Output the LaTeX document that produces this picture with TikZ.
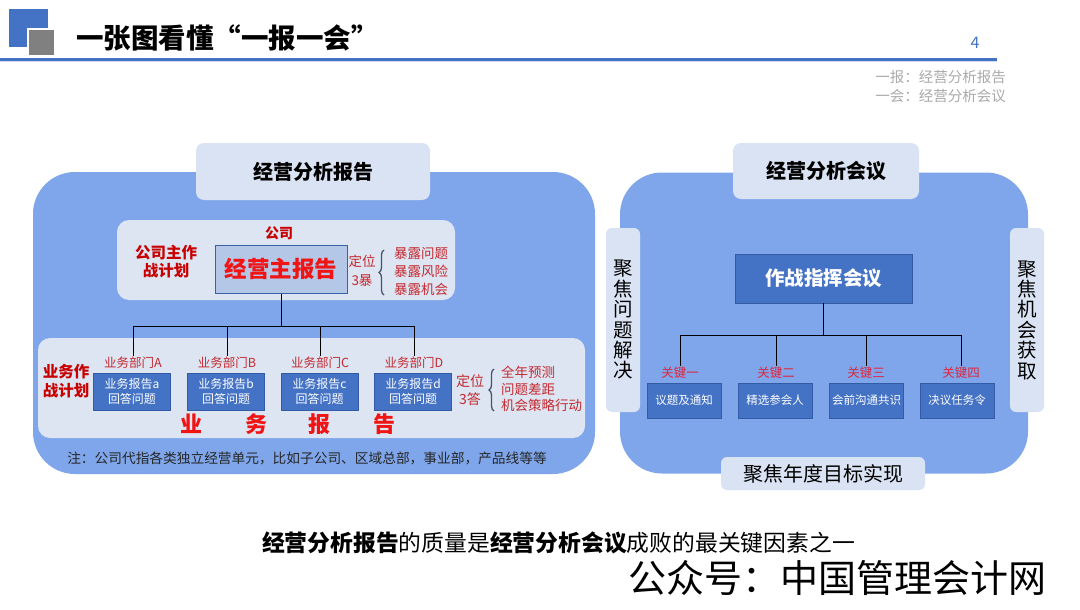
\documentclass[tikz,border=0pt]{standalone}
\usepackage{fontspec}
\setmainfont{Noto Sans CJK SC}
\usetikzlibrary{decorations.pathreplacing}
\definecolor{panel}{RGB}{127,166,234}
\definecolor{tabfill}{RGB}{218,227,243}
\definecolor{innerfill}{RGB}{221,229,242}
\definecolor{darkbox}{RGB}{68,114,196}
\definecolor{darkborder}{RGB}{52,92,166}
\definecolor{mainfill}{RGB}{180,199,231}
\definecolor{brightred}{RGB}{240,20,20}
\definecolor{darkred}{RGB}{200,0,0}
\definecolor{labelred}{RGB}{196,42,48}
\definecolor{keyred}{RGB}{224,36,60}
\definecolor{bracecol}{RGB}{68,84,106}
\definecolor{graytxt}{RGB}{170,170,170}
\definecolor{titleblue}{RGB}{68,114,196}
\newcommand{\fsz}[2]{\fontsize{#1}{#2}\selectfont}
\tikzset{
  bigpanel/.style={fill=panel, draw=none, rounded corners=42, inner sep=0},
  tabbox/.style={fill=tabfill, draw=none, rounded corners=8, inner sep=0},
  innerbox/.style={fill=innerfill, draw=none, rounded corners=12, inner sep=0},
  bluebox/.style={fill=darkbox, draw=darkborder, line width=0.8, text=white, align=center, inner sep=0, minimum width=77, minimum height=37},
  keybox/.style={fill=darkbox, draw=darkborder, line width=0.8, text=white, inner sep=0, minimum width=74, minimum height=35, font=\fsz{11.5}{13}},
  conn/.style={draw=black, line width=0.9},
  brc/.style={draw=bracecol, line width=1.3, decorate, decoration={brace, amplitude=5}},
  redlab/.style={text=labelred, inner sep=1, font=\fsz{12.5}{14}},
  keylab/.style={text=keyred, inner sep=1, font=\fsz{12.5}{14}}
}
\begin{document}
\begin{tikzpicture}[x=1pt,y=-1pt]
\useasboundingbox (0,0) rectangle (1080,610);
\fill[white] (0,0) rectangle (1080,610);

% header
\fill[titleblue] (9,9) rectangle (48,47);
\filldraw[fill=gray!100!white, draw=white, line width=1.2] (28,29) rectangle (55,56);
\node[anchor=west, inner sep=0, font=\fsz{27.5}{29}\bfseries] (title) at (76,38) {一张图看懂“一报一会”};
\draw[titleblue, line width=2.2] (0,59.5) -- (997,59.5);
\draw[titleblue!25, line width=1] (0,62) -- (997,62);
\node[text=titleblue, inner sep=0, font=\fsz{16}{17}] (pgnum) at (975,43) {4};
\node[anchor=east, text=graytxt, inner sep=0, font=\fsz{14.5}{16}] (n1) at (1006,77) {一报：经营分析报告};
\node[anchor=east, text=graytxt, inner sep=0, font=\fsz{14.5}{16}] (n2) at (1006,96) {一会：经营分析会议};

% ===== left panel =====
\node[bigpanel, minimum width=562, minimum height=302] (lp) at (314,323) {};
\node[tabbox, minimum width=234, minimum height=57, font=\fsz{20}{22}\bfseries] (ltab) at (313,171.5) {经营分析报告};
\node[innerbox, minimum width=338, minimum height=80] (ltop) at (286,260) {};
\node[innerbox, minimum width=547, minimum height=100] (lbot) at (311.5,388) {};

\node[text=darkred, inner sep=0, font=\fsz{14}{15}\bfseries] (gs) at (279,233) {公司};
\node[text=darkred, align=center, inner sep=0, font=\fsz{15.5}{18}\bfseries] (gszz) at (166,262) {公司主作\\战计划};
\node[fill=mainfill, draw=darkbox!85!black, line width=1, minimum width=132, minimum height=48, inner sep=0, text=brightred, font=\fsz{22.5}{24}\bfseries] (mb) at (281,269) {经营主报告};
\node[text=labelred, align=center, inner sep=0, font=\fsz{13.5}{19}] (dw1) at (362,271) {定位\\3暴};
\draw[brc] (384,295) -- (384,250);
\node[anchor=west, text=labelred, align=left, inner sep=0, font=\fsz{13.5}{18}] (bl) at (394,271) {暴露问题\\暴露风险\\暴露机会};

\node[text=darkred, align=center, inner sep=0, font=\fsz{15.5}{19}\bfseries] (ywzz) at (66,381) {业务作\\战计划};
\node[redlab] (dA) at (133,363) {业务部门A};
\node[redlab] (dB) at (227,363) {业务部门B};
\node[redlab] (dC) at (320,363) {业务部门C};
\node[redlab] (dD) at (414,363) {业务部门D};
\node[bluebox, font=\fsz{12}{15}] (ra) at (132,391.5) {业务报告a\\回答问题};
\node[bluebox, font=\fsz{12}{15}] (rb) at (226,391.5) {业务报告b\\回答问题};
\node[bluebox, font=\fsz{12}{15}] (rc) at (319.5,391.5) {业务报告c\\回答问题};
\node[bluebox, font=\fsz{12}{15}] (rd) at (413,391.5) {业务报告d\\回答问题};
\node[text=labelred, align=center, inner sep=0, font=\fsz{14}{17.5}] (dw2) at (470,390) {定位\\3答};
\draw[brc] (494,411) -- (494,369);
\node[anchor=west, text=labelred, align=left, inner sep=0, font=\fsz{13.5}{16.2}] (dl) at (501,389) {全年预测\\问题差距\\机会策略行动};
\foreach \x/\c/\n in {191/业/y1,256/务/y2,319/报/y3,384/告/y4}
  \node[text=brightred, inner sep=0, font=\fsz{22}{24}\bfseries] (\n) at (\x,424) {\c};
\node[text=black!85, inner sep=0, font=\fsz{13.7}{15}] (note) at (307,458) {注：公司代指各类独立经营单元，比如子公司、区域总部，事业部，产品线等等};

\coordinate (lbus) at (279,326);
\draw[conn] (mb.south) -- (mb.south |- lbus);
\draw[conn] (dA.north |- lbus) -- (dD.north |- lbus);
\foreach \d in {dA,dB,dC,dD} \draw[conn] (\d.north |- lbus) -- (\d.north);

% ===== right panel =====
\node[bigpanel, minimum width=408, minimum height=301] (rp) at (824,323) {};
\node[tabbox, minimum width=186, minimum height=56, font=\fsz{20}{22}\bfseries] (rtab) at (826,171) {经营分析会议};
\node[tabbox, rounded corners=6, minimum width=34, minimum height=184, align=center, font=\fsz{19.5}{20.4}] (lside) at (623,320) {聚\\焦\\问\\题\\解\\决};
\node[tabbox, rounded corners=6, minimum width=34, minimum height=184, align=center, font=\fsz{19.5}{20.4}] (rside) at (1027,320) {聚\\焦\\机\\会\\获\\取};
\node[tabbox, rounded corners=6, minimum width=204, minimum height=33, font=\fsz{20}{22}] (btab) at (823,473.5) {聚焦年度目标实现};
\node[fill=darkbox, draw=darkborder, line width=0.8, minimum width=177, minimum height=49, inner sep=0, text=white, font=\fsz{19.5}{21}\bfseries] (cmd) at (823.5,278.5) {作战指挥会议};

\node[keylab] (k1) at (680,373) {关键一};
\node[keylab] (k2) at (776,373) {关键二};
\node[keylab] (k3) at (866,373) {关键三};
\node[keylab] (k4) at (961,373) {关键四};
\node[keybox] (b1) at (684,400.5) {议题及通知};
\node[keybox] (b2) at (775,400.5) {精选参会人};
\node[keybox] (b3) at (866.5,400.5) {会前沟通共识};
\node[keybox] (b4) at (957,400.5) {决议任务令};

\coordinate (rbus) at (823,335);
\draw[conn] (cmd.south) -- (cmd.south |- rbus);
\draw[conn] (k1.north |- rbus) -- (k4.north |- rbus);
\foreach \k in {k1,k2,k3,k4} \draw[conn] (\k.north |- rbus) -- (\k.north);

% bottom texts
\node[inner sep=0, font=\fsz{22.8}{24}] (concl) at (558.5,543) {\textbf{经营分析报告}的质量是\textbf{经营分析会议}成败的最关键因素之一};
\node[inner sep=0, font=\fsz{38}{40}] (wm) at (837.5,578) {公众号：中国管理会计网};
\end{tikzpicture}
\end{document}
